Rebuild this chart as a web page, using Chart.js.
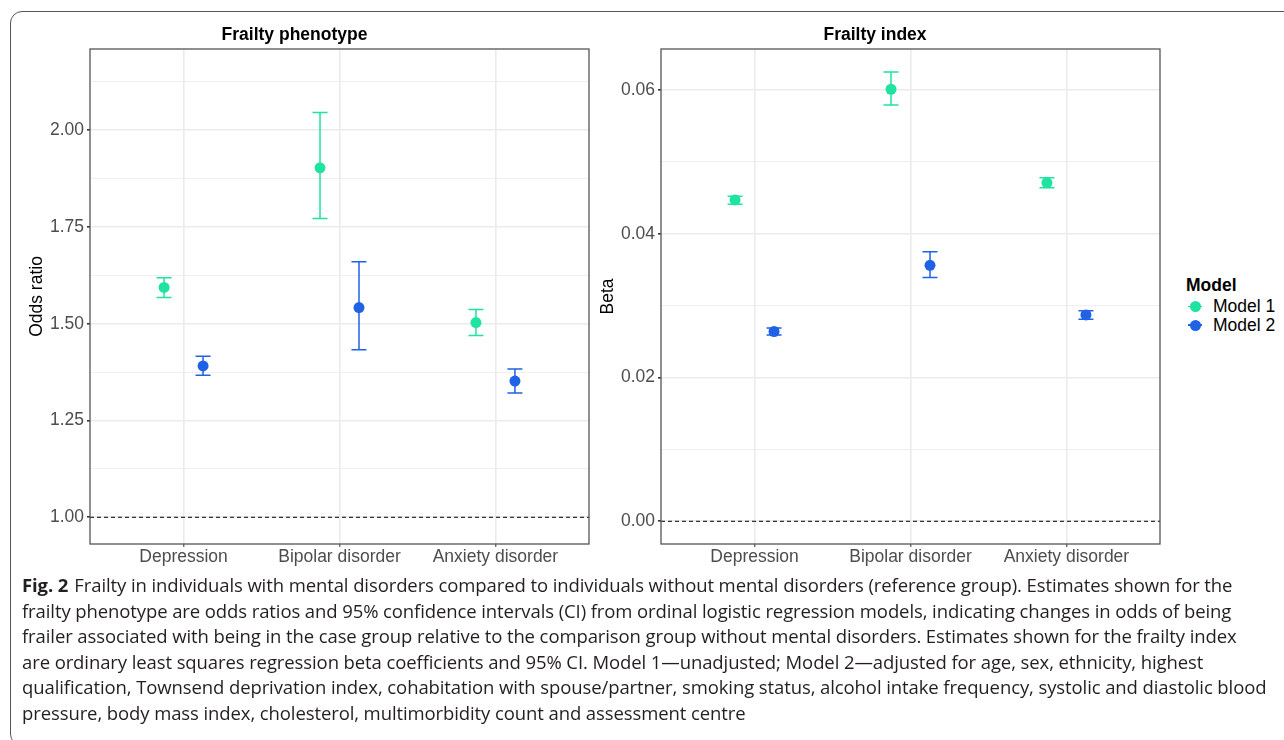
<!DOCTYPE html>
<html>
<head>
<meta charset="utf-8">
<script src="https://cdn.jsdelivr.net/npm/chart.js@4.4.1/dist/chart.umd.min.js"></script>
<style>
  html, body { margin: 0; padding: 0; background: #fff; width: 1284px; height: 740px; overflow: hidden; }
  body { position: relative; font-family: "Liberation Sans", Arial, sans-serif; }
  .frame { position: absolute; left: 10px; top: 11px; width: 1320px; height: 733px; border: 1.5px solid #555; border-radius: 12px; }
  #cL { position: absolute; left: 0; top: 14px; }
  #cR { position: absolute; left: 590px; top: 14px; }
  .legend { position: absolute; left: 1186px; top: 273px; font-size: 17.5px; color: #000; }
  .legend .ttl { font-weight: bold; height: 24px; line-height: 24px; }
  .legend .item { position: relative; height: 18.5px; line-height: 18.5px; padding-left: 27px; }
  .legend .key { position: absolute; left: 2px; top: 2.5px; width: 14px; height: 14px; }
  .legend .key::before { content: ""; position: absolute; left: 0; top: 6.3px; width: 14px; height: 1.5px; background: currentColor; }
  .legend .key::after { content: ""; position: absolute; left: 1.5px; top: 1.5px; width: 11px; height: 11px; border-radius: 50%; background: currentColor; }
  .caption { position: absolute; left: 22px; top: 572px; font-family: "Open Sans", "Noto Sans", sans-serif; font-size: 18.5px; letter-spacing: -0.1px; line-height: 25.6px; color: #231f20; white-space: nowrap; }
  .caption b { font-weight: bold; margin-right: 6px; }
</style>
</head>
<body>
<div class="frame"></div>
<canvas id="cL" width="595" height="560"></canvas>
<canvas id="cR" width="580" height="560"></canvas>
<div class="legend" id="legend"></div>
<div class="caption">
<b>Fig. 2</b>Frailty in individuals with mental disorders compared to individuals without mental disorders (reference group). Estimates shown for the<br>
frailty phenotype are odds ratios and 95% confidence intervals (CI) from ordinal logistic regression models, indicating changes in odds of being<br>
frailer associated with being in the case group relative to the comparison group without mental disorders. Estimates shown for the frailty index<br>
are ordinary least squares regression beta coefficients and 95% CI. Model 1—unadjusted; Model 2—adjusted for age, sex, ethnicity, highest<br>
qualification, Townsend deprivation index, cohabitation with spouse/partner, smoking status, alcohol intake frequency, systolic and diastolic blood<br>
pressure, body mass index, cholesterol, multimorbidity count and assessment centre
</div>
<script>
const categories = ["Depression", "Bipolar disorder", "Anxiety disorder"];
const seriesNames = ["Model 1", "Model 2"];

// frailty phenotype, odds ratios with 95% CI
const orModel1 = [1.594, 1.903, 1.503];
const orModel1Lo = [1.568, 1.772, 1.470];
const orModel1Hi = [1.619, 2.046, 1.537];
const orModel2 = [1.391, 1.542, 1.352];
const orModel2Lo = [1.367, 1.433, 1.321];
const orModel2Hi = [1.416, 1.660, 1.383];

// frailty index, beta coefficients with 95% CI
const betaModel1 = [0.0447, 0.0601, 0.0471];
const betaModel1Lo = [0.0441, 0.0579, 0.0464];
const betaModel1Hi = [0.0452, 0.0625, 0.0478];
const betaModel2 = [0.0264, 0.0356, 0.0287];
const betaModel2Lo = [0.0259, 0.0339, 0.0281];
const betaModel2Hi = [0.0269, 0.0375, 0.0293];

const orTicks = [1.00, 1.25, 1.50, 1.75, 2.00];
const betaTicks = [0.00, 0.02, 0.04, 0.06];
const orRange = [0.931, 2.21];
const betaRange = [-0.00316, 0.0657];
const orRef = 1;
const betaRef = 0;

const colors = ["#20e3a0", "#1f62e6"];
const FONT = "'Liberation Sans', Arial, sans-serif";
const dodge = 0.125;

// major ticks plus the ggplot-style minor ones halfway between
const withMinor = (major, range) => {
  const step = major[1] - major[0];
  const out = [];
  for (let v = major[0] - step / 2; v <= range[1] + 1e-9; v += step / 2) {
    if (v >= range[0]) out.push({ value: +v.toFixed(6), major: major.some((m) => Math.abs(m - v) < 1e-9) });
  }
  return out;
};

const points = (vals, lo, hi, offset) =>
  vals.map((v, i) => ({ x: i + 1 + offset, y: v, lo: lo[i], hi: hi[i] }));

const errorBars = {
  id: "errorBars",
  beforeDatasetsDraw(chart, args, opts) {
    const { ctx, chartArea, scales: { x, y } } = chart;
    ctx.save();
    const yr = y.getPixelForValue(opts.ref);
    ctx.setLineDash([4, 3]);
    ctx.strokeStyle = "#000";
    ctx.lineWidth = 1;
    ctx.beginPath();
    ctx.moveTo(chartArea.left, yr);
    ctx.lineTo(chartArea.right, yr);
    ctx.stroke();
    ctx.setLineDash([]);
    chart.data.datasets.forEach((ds) => {
      ctx.strokeStyle = ds.backgroundColor;
      ctx.lineWidth = 1.5;
      for (const pt of ds.data) {
        const px = x.getPixelForValue(pt.x);
        const y1 = y.getPixelForValue(pt.lo);
        const y2 = y.getPixelForValue(pt.hi);
        ctx.beginPath();
        ctx.moveTo(px, y1); ctx.lineTo(px, y2);
        ctx.moveTo(px - 7.5, y1); ctx.lineTo(px + 7.5, y1);
        ctx.moveTo(px - 7.5, y2); ctx.lineTo(px + 7.5, y2);
        ctx.stroke();
      }
    });
    ctx.restore();
  },
  afterDraw(chart) {
    const { ctx, chartArea: a } = chart;
    ctx.save();
    ctx.strokeStyle = "#555";
    ctx.lineWidth = 1.3;
    ctx.strokeRect(a.left, a.top, a.right - a.left, a.bottom - a.top);
    ctx.restore();
  },
};

function makePanel(id, title, yTitle, series, ticks, range, ref, yWidth, yTitlePad, padRight, fmt) {
  const tickList = withMinor(ticks, range);
  return new Chart(document.getElementById(id), {
    type: "scatter",
    data: {
      datasets: series.map((s, k) => ({
        label: seriesNames[k],
        data: s,
        backgroundColor: colors[k],
        borderColor: colors[k],
        pointRadius: 5.5,
        pointHoverRadius: 5.5,
        borderWidth: 0,
      })),
    },
    options: {
      responsive: false,
      animation: false,
      layout: { padding: { top: 0, right: padRight, bottom: 0, left: 0 } },
      plugins: {
        legend: { display: false },
        tooltip: { enabled: false },
        title: {
          display: true,
          text: title,
          color: "#000",
          font: { family: FONT, size: 17.5, weight: "bold" },
          padding: { top: 11, bottom: 3 },
        },
        errorBars: { ref },
      },
      scales: {
        x: {
          type: "linear",
          min: 0.4,
          max: 3.6,
          afterBuildTicks: (sc) => { sc.ticks = categories.map((c, i) => ({ value: i + 1 })); },
          afterFit: (sc) => { sc.height = 30; },
          ticks: {
            callback: (v) => categories[Math.round(v) - 1],
            color: "#4d4d4d",
            font: { family: FONT, size: 17.5 },
            padding: 0,
            maxRotation: 0,
            autoSkip: false,
          },
          grid: { color: "#ebebeb", lineWidth: 1.6, tickLength: 3, tickColor: "#333", tickWidth: 1 },
          border: { display: false },
        },
        y: {
          min: range[0],
          max: range[1],
          afterBuildTicks: (sc) => { sc.ticks = tickList.map((t) => ({ value: t.value })); },
          afterFit: (sc) => { sc.width = yWidth; },
          title: {
            display: true,
            text: yTitle,
            color: "#000",
            font: { family: FONT, size: 17.5 },
            padding: { top: yTitlePad, bottom: 0 },
          },
          ticks: {
            callback: (v, i) => (tickList[i] && tickList[i].major ? fmt(v) : ""),
            color: "#4d4d4d",
            font: { family: FONT, size: 17.5 },
            padding: 3,
          },
          grid: {
            color: "#ebebeb",
            lineWidth: (c) => (tickList[c.index] && tickList[c.index].major ? 1.6 : 0.8),
            tickLength: 3,
            tickColor: (c) => (tickList[c.index] && tickList[c.index].major ? "#333" : "rgba(0,0,0,0)"),
          },
          border: { display: false },
        },
      },
    },
    plugins: [errorBars],
  });
}

makePanel("cL", "Frailty phenotype", "Odds ratio",
  [points(orModel1, orModel1Lo, orModel1Hi, -dodge), points(orModel2, orModel2Lo, orModel2Hi, dodge)],
  orTicks, orRange, orRef, 90, 27, 6, (v) => v.toFixed(2));

makePanel("cR", "Frailty index", "Beta",
  [points(betaModel1, betaModel1Lo, betaModel1Hi, -dodge), points(betaModel2, betaModel2Lo, betaModel2Hi, dodge)],
  betaTicks, betaRange, betaRef, 71, 7.2, 10, (v) => v.toFixed(2));

// legend
const lg = document.getElementById("legend");
lg.innerHTML = '<div class="ttl">Model</div>' + seriesNames
  .map((n, k) => `<div class="item"><span class="key" style="color:${colors[k]}"></span>${n}</div>`)
  .join("");
</script>
</body>
</html>
